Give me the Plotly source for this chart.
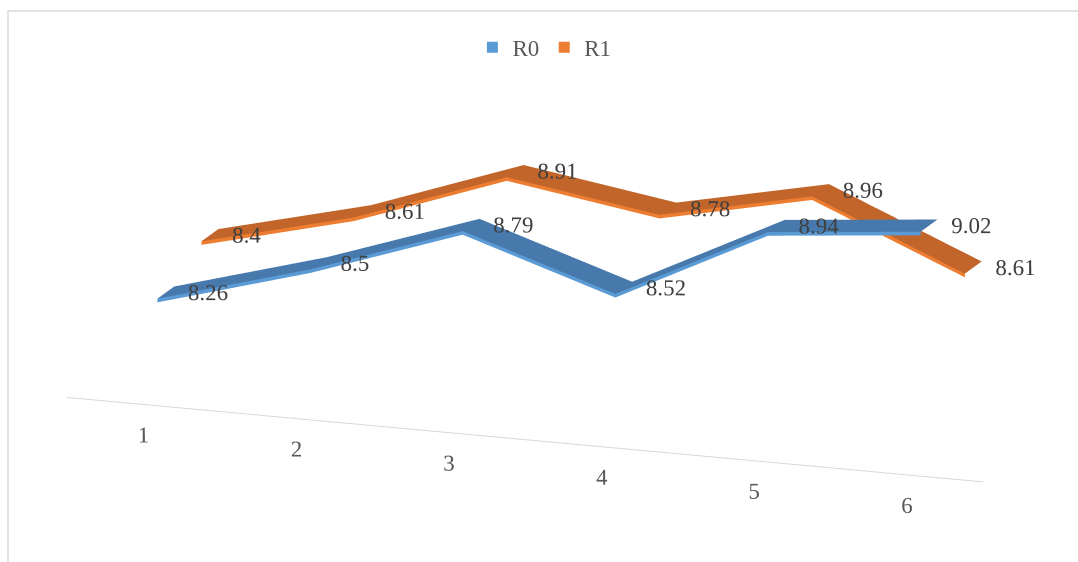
import plotly.graph_objects as go

categories = [1, 2, 3, 4, 5, 6]
series_names = ["R0", "R1"]
r0_values = [8.26, 8.5, 8.79, 8.52, 8.94, 9.02]
r1_values = [8.4, 8.61, 8.91, 8.78, 8.96, 8.61]

top_colors = ["#4779AC", "#C2652A"]
edge_colors = ["#5B9BD5", "#ED7D31"]
label_font = dict(family="Liberation Serif", size=23, color="#404040")
tick_font = dict(family="Liberation Serif", size=23, color="#595959")

X_RANGE = (0.5, 6.5)
Y_RANGE = (0.0, 2.0)
Z_RANGE = (7.73, 9.13)
HALF_W = 0.19      # half depth of each ribbon (series-axis units)
THICK = 0.02       # thickness of the ribbon's front face (value units)

# view settings
eye_dir = (0.324, -0.910, 0.259)
dist = 2.0
zoom = 1.73
aspect = dict(x=2.0 * zoom, y=0.542 * zoom, z=0.539 * zoom)

# Labels are pulled toward the viewer along the line of sight so that the
# ribbons never hide them (orthographic view: screen position unchanged).
PULL = 0.25
pull_x = PULL * eye_dir[0] / (aspect["x"] / (X_RANGE[1] - X_RANGE[0]))
pull_y = PULL * eye_dir[1] / (aspect["y"] / (Y_RANGE[1] - Y_RANGE[0]))
pull_z = PULL * eye_dir[2] / (aspect["z"] / (Z_RANGE[1] - Z_RANGE[0]))


def flat_surface(xs, ys, zs, color):
    n = len(xs[0])
    return go.Surface(
        x=xs, y=ys, z=zs,
        surfacecolor=[[0] * n, [0] * n], cmin=0, cmax=1,
        colorscale=[[0, color], [1, color]],
        showscale=False,
        lighting=dict(ambient=1.0, diffuse=0.0, specular=0.0, fresnel=0.0, roughness=1.0),
        hoverinfo="skip",
        showlegend=False,
    )


fig = go.Figure()

for i, (name, vals) in enumerate(zip(series_names, [r0_values, r1_values])):
    yc = i + 0.5
    n = len(categories)
    # top face of the ribbon
    fig.add_trace(flat_surface(
        [categories, categories],
        [[yc - HALF_W] * n, [yc + HALF_W] * n],
        [vals, vals],
        top_colors[i],
    ))
    # thin front face
    fig.add_trace(flat_surface(
        [categories, categories],
        [[yc - HALF_W] * n, [yc - HALF_W] * n],
        [vals, [v - THICK for v in vals]],
        edge_colors[i],
    ))
    # value labels
    fig.add_trace(go.Scatter3d(
        x=[c + pull_x for c in categories],
        y=[yc + pull_y] * n,
        z=[v + pull_z for v in vals],
        mode="text",
        text=[f"{v:g}" for v in vals],
        textposition="middle right",
        textfont=label_font,
        hoverinfo="skip",
        showlegend=False,
    ))
    # legend entry
    fig.add_trace(go.Scatter3d(
        x=[None], y=[None], z=[None],
        mode="markers",
        name=name,
        marker=dict(symbol="square", size=11, color=edge_colors[i]),
        hoverinfo="skip",
    ))

# category labels along the front edge of the floor
fig.add_trace(go.Scatter3d(
    x=categories, y=[Y_RANGE[0]] * len(categories), z=[Z_RANGE[0]] * len(categories),
    mode="text",
    text=[str(c) for c in categories],
    textposition="bottom center",
    textfont=tick_font,
    hoverinfo="skip",
    showlegend=False,
))

hidden = dict(visible=False, showgrid=False, zeroline=False, showbackground=False, showspikes=False)

fig.update_layout(
    width=1078, height=562,
    margin=dict(l=0, r=0, t=0, b=0),
    paper_bgcolor="white",
    font=dict(family="Liberation Serif", color="#595959"),
    hovermode=False,
    showlegend=True,
    legend=dict(
        orientation="h", x=0.505, xanchor="center", y=0.916, yanchor="middle",
        font=dict(size=23, color="#595959"), itemwidth=30,
        bgcolor="rgba(0,0,0,0)",
    ),
    scene=dict(
        domain=dict(x=[0.057, 1], y=[0, 1]),
        xaxis=dict(
            range=list(X_RANGE), showline=True, linecolor="#D9D9D9", linewidth=2,
            showgrid=False, zeroline=False, showbackground=False, showspikes=False,
            showticklabels=False, ticks="", title=dict(text=""),
        ),
        yaxis=dict(range=list(Y_RANGE), **hidden),
        zaxis=dict(range=list(Z_RANGE), **hidden),
        aspectmode="manual",
        aspectratio=aspect,
        camera=dict(
            eye=dict(x=eye_dir[0] * dist, y=eye_dir[1] * dist, z=eye_dir[2] * dist),
            center=dict(x=0, y=0, z=0),
            up=dict(x=0, y=0, z=1),
            projection=dict(type="orthographic"),
        ),
    ),
    shapes=[dict(
        type="rect", xref="paper", yref="paper",
        x0=8 / 1078, x1=1.02, y0=-0.02, y1=1 - 11 / 562,
        line=dict(color="#D9D9D9", width=1.5), fillcolor="rgba(0,0,0,0)", layer="below",
    )],
)

fig.write_html("out.html")
